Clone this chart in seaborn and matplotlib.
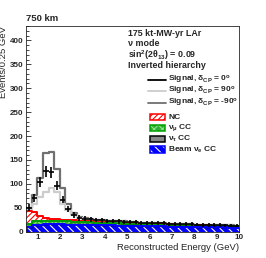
import numpy as np
import pandas as pd
import seaborn as sns
import matplotlib.pyplot as plt
from matplotlib.lines import Line2D
from matplotlib.patches import Rectangle
from matplotlib.ticker import MultipleLocator

# bins de 0.25 GeV entre 0.5 e 10 GeV
edges = np.arange(0.5, 10.001, 0.25)
centers = edges[:-1] + 0.125

# backgrounds (eventos por bin)
beam_nue = [9, 14, 15, 16, 16, 16, 15.5, 15, 15, 14.5,
            14, 14, 13.5, 13.5, 13, 13, 12.5, 12.5, 12, 12,
            11.5, 11.5, 11, 11, 11, 10.5, 10.5, 10, 10, 10,
            9.5, 9.5, 9.5, 9, 9, 9, 8.5, 8.5]
nutau_cc = [0, 0, 0, 0, 0.2, 0.5, 0.8, 1.0, 1.2, 1.3,
            1.4, 1.4, 1.4, 1.4, 1.3, 1.3, 1.3, 1.2, 1.2, 1.2,
            1.1, 1.1, 1.1, 1.0, 1.0, 1.0, 0.9, 0.9, 0.9, 0.9,
            0.8, 0.8, 0.8, 0.8, 0.7, 0.7, 0.7, 0.7]
numu_cc = [8, 9, 8, 7, 7, 6.5, 6, 5.5, 5, 4.5,
           4.5, 4, 4, 4, 3.5, 3.5, 3.5, 3.2, 3, 3,
           2.8, 2.8, 2.6, 2.6, 2.5, 2.5, 2.4, 2.4, 2.3, 2.3,
           2.2, 2.2, 2.1, 2.1, 2, 2, 1.9, 1.9]
nc = [26, 19, 9, 5, 4, 3.2, 3, 2.8, 2.6, 2.4,
      2.2, 2.1, 2, 2, 1.9, 1.8, 1.7, 1.6, 1.5, 1.5,
      1.4, 1.4, 1.3, 1.3, 1.2, 1.2, 1.1, 1.1, 1, 1,
      1, 0.9, 0.9, 0.9, 0.8, 0.8, 0.8, 0.8]

# sinal para cada delta_CP
sig_0 = [7, 28, 72, 98, 97, 70, 42, 23, 11, 6,
         4.5, 4, 3.5, 3, 3, 2.8, 2.6, 2.4, 2.2, 2,
         2, 1.9, 1.8, 1.7, 1.6, 1.5, 1.4, 1.4, 1.3, 1.2,
         1.2, 1.1, 1.1, 1, 1, 0.9, 0.9, 0.8]
sig_p90 = [4, 16, 40, 54, 64, 56, 33, 20, 11, 5.5,
           3.5, 3, 2.6, 2.3, 2.1, 2, 1.8, 1.7, 1.6, 1.5,
           1.4, 1.3, 1.3, 1.2, 1.2, 1.1, 1.1, 1, 1, 0.9,
           0.9, 0.9, 0.8, 0.8, 0.8, 0.7, 0.7, 0.7]
sig_m90 = [7, 34, 81, 136, 139, 105, 66, 34, 16, 9,
           6, 5, 4.5, 4, 3.6, 3.3, 3, 2.8, 2.6, 2.4,
           2.3, 2.2, 2.1, 2, 1.9, 1.8, 1.7, 1.6, 1.5, 1.5,
           1.4, 1.3, 1.3, 1.2, 1.2, 1.1, 1.1, 1]

sns.set_style('ticks')
plt.rcParams['font.family'] = ['Liberation Sans', 'DejaVu Sans']
plt.rcParams['font.weight'] = 'bold'
plt.rcParams['mathtext.fontset'] = 'custom'
plt.rcParams['mathtext.rm'] = 'Liberation Sans:bold'
plt.rcParams['mathtext.it'] = 'Liberation Sans:bold'
plt.rcParams['mathtext.bf'] = 'Liberation Sans:bold'
plt.rcParams['hatch.linewidth'] = 0.8

FS = 6.8   # texto
FH = 6.4   # cabeçalho
FL = 6.0   # legenda
FT = 5.8   # rótulos dos ticks

fig, ax = plt.subplots(figsize=(2.66, 2.58), dpi=100)
fig.subplots_adjust(left=0.098, right=0.9, bottom=0.102, top=0.899)

# pilha: nue (base), nutau, numu, NC
df = pd.DataFrame({'E': centers})
df['s1'] = beam_nue
df['s2'] = df['s1'] + nutau_cc
df['s3'] = df['s2'] + numu_cc
df['s4'] = df['s3'] + nc
df['m90'] = df['s4'] + sig_m90
df['p90'] = df['s4'] + sig_p90
df['d0'] = df['s4'] + sig_0

GREEN = '#00a000'
RED = '#ff0000'
BLUE = '#0000ff'
DGRAY = '#707070'
LGRAY = '#cccccc'
BINS = dict(binwidth=0.25, binrange=(0.5, 10))


def camada(col, face, hatch_col, hatch, line_col, lw):
    sns.histplot(data=df, x='E', weights=col, element='step', fill=True,
                 facecolor=face, edgecolor=hatch_col, hatch=hatch, linewidth=0,
                 alpha=1, ax=ax, **BINS)
    sns.histplot(data=df, x='E', weights=col, element='step', fill=False,
                 color=line_col, linewidth=lw, alpha=1, ax=ax, **BINS)


# sinais por cima do background
sns.histplot(data=df, x='E', weights='m90', element='step',
             fill=False, color=DGRAY, linewidth=1.6, alpha=1, ax=ax, **BINS)
sns.histplot(data=df, x='E', weights='p90', element='step',
             fill=False, color=LGRAY, linewidth=1.6, alpha=1, ax=ax, **BINS)

camada('s4', 'white', RED, '//////', RED, 1.4)
camada('s3', '#30b030', '#90e090', 'xxxx', GREEN, 1.4)
camada('s2', '#888888', '#888888', None, 'black', 1.0)
camada('s1', BLUE, 'white', '\\\\\\\\', BLUE, 1.4)

ax.errorbar(df['E'], df['d0'], xerr=0.125, yerr=np.sqrt(df['d0']), fmt='none',
            ecolor='black', elinewidth=1.2, capsize=0, zorder=5)

ax.set_xlim(0.5, 10)
ax.set_ylim(0, 430)
ax.xaxis.set_major_locator(MultipleLocator(1))
ax.xaxis.set_minor_locator(MultipleLocator(0.2))
ax.yaxis.set_major_locator(MultipleLocator(50))
ax.yaxis.set_minor_locator(MultipleLocator(10))
ax.tick_params(which='both', direction='in', width=0.6, labelsize=FT, pad=2)
ax.tick_params(which='major', length=3.6)
ax.tick_params(which='minor', length=1.8)
for sp in ax.spines.values():
    sp.set_linewidth(0.6)

ax.set_xlabel('Reconstructed Energy (GeV)', loc='right', fontsize=FS, labelpad=1)
ax.set_ylabel('Events/0.25 GeV', loc='top', fontsize=FS, labelpad=1)
ax.set_title('750 km', loc='left', fontsize=FS, fontweight='bold', pad=3.5)

# texto do cabeçalho
header = ['175 kt-MW-yr LAr', 'ν mode', r'sin$^2$(2θ$_{13}$) = 0.09', 'Inverted hierarchy']
header_y = [0.966, 0.916, 0.860, 0.806]
for y, t in zip(header_y, header):
    ax.text(0.478, y, t, transform=ax.transAxes, fontsize=FH, va='center')

# legenda dos sinais (linhas)
sig_leg = [('black', r'Signal, δ$_{\rm CP}$ = 0$^{\rm o}$'),
           (LGRAY, r'Signal, δ$_{\rm CP}$ = 90$^{\rm o}$'),
           (DGRAY, r'Signal, δ$_{\rm CP}$ = -90$^{\rm o}$')]
for i, (c, t) in enumerate(sig_leg):
    y = 0.737 - 0.055 * i
    ax.add_line(Line2D([0.571, 0.656], [y, y], color=c, lw=1.3, transform=ax.transAxes))
    ax.text(0.664, y, t, transform=ax.transAxes, fontsize=FL, va='center')

# legenda dos backgrounds (caixas)
bg_leg = [('white', RED, '//////', RED, 'NC'),
          ('#30b030', '#90e090', 'xxxx', GREEN, r'ν$_\mu$ CC'),
          ('#888888', '#888888', None, 'black', r'ν$_\tau$ CC'),
          (BLUE, 'white', '\\\\\\\\', BLUE, r'Beam ν$_e$ CC')]
ys = [0.556, 0.504, 0.452, 0.400]
for y, (face, hc, hatch, lc, t) in zip(ys, bg_leg):
    ax.add_patch(Rectangle((0.581, y - 0.015), 0.07, 0.03, facecolor=face, edgecolor=hc,
                           hatch=hatch, lw=0, transform=ax.transAxes))
    ax.add_patch(Rectangle((0.581, y - 0.015), 0.07, 0.03, facecolor='none', edgecolor=lc,
                           lw=1.1, transform=ax.transAxes))
    ax.text(0.667, y, t, transform=ax.transAxes, fontsize=FL, va='center')

plt.savefig('out.png', dpi=100)
